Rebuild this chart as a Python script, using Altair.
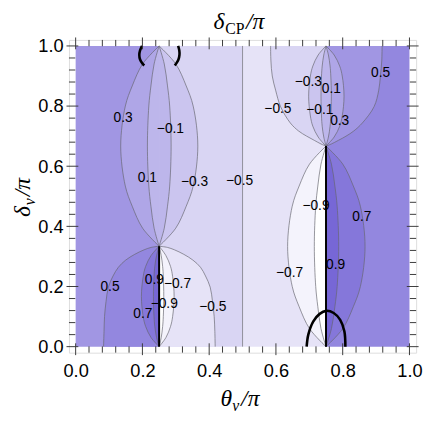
import altair as alt
import pandas as pd

# ---------------- values ----------------
TICKS_MAJOR = [0.0, 0.2, 0.4, 0.6, 0.8, 1.0]
TICKS_MINOR = [0.04, 0.08, 0.12, 0.16, 0.24, 0.28, 0.32, 0.36, 0.44, 0.48,
               0.52, 0.56, 0.64, 0.68, 0.72, 0.76, 0.84, 0.88, 0.92, 0.96]

# band colour, keyed by the lower contour level of the band
LEVEL_COLORS = {
    -1.0: "#ffffff", -0.9: "#f4f3fc", -0.7: "#e6e3f7", -0.5: "#d9d5f3",
    -0.3: "#cbc5ef", -0.1: "#bdb6eb", 0.1: "#afa6e7", 0.3: "#a196e3",
    0.5: "#9387df", 0.7: "#8577da", 0.9: "#7767d6",
}

# delta positions (delta/pi) of the points
D_BIG_LOW = [0.0, 0.060, 0.133, 0.200, 0.333, 0.467, 0.534, 0.607, 0.667]
D_BIG_UP = [0.334, 0.394, 0.467, 0.534, 0.667, 0.800, 0.867, 0.940, 1.0]
D_SMALL_LOW = [0.0, 0.030, 0.067, 0.100, 0.167, 0.233, 0.267, 0.303, 0.334]
D_SMALL_UP = [0.667, 0.697, 0.733, 0.767, 0.833, 0.900, 0.933, 0.970, 1.0]

# contour curves: name -> (theta/pi list, delta/pi list)
CURVES = {
    "ll_p05": ([0.0836, 0.085, 0.0865, 0.091, 0.098, 0.112, 0.128, 0.150, 0.177, 0.205, 0.226, 0.25],
               [0.0, 0.05, 0.10, 0.15, 0.198, 0.235, 0.264, 0.288, 0.307, 0.322, 0.330, 0.334]),
    "ll_m05": ([0.418, 0.417, 0.415, 0.410, 0.403, 0.389, 0.374, 0.351, 0.324, 0.296, 0.275, 0.25],
               [0.0, 0.05, 0.10, 0.15, 0.198, 0.235, 0.264, 0.288, 0.307, 0.322, 0.330, 0.334]),
    "ll_p07": ([0.25, 0.226, 0.2097, 0.2023, 0.197, 0.2023, 0.2097, 0.226, 0.25], D_SMALL_LOW),
    "ll_p09": ([0.25, 0.2424, 0.2371, 0.2347, 0.233, 0.2347, 0.2371, 0.2424, 0.25], D_SMALL_LOW),
    "ll_m09": ([0.25, 0.2563, 0.2606, 0.2626, 0.264, 0.2626, 0.2606, 0.2563, 0.25], D_SMALL_LOW),
    "ll_m07": ([0.25, 0.2703, 0.2842, 0.2905, 0.295, 0.2905, 0.2842, 0.2703, 0.25], D_SMALL_LOW),
    "ul_p03": ([0.25, 0.2006, 0.1695, 0.1488, 0.135, 0.1488, 0.1695, 0.2006, 0.25], D_BIG_UP),
    "ul_p01": ([0.25, 0.235, 0.2255, 0.2192, 0.215, 0.2192, 0.2255, 0.235, 0.25], D_BIG_UP),
    "ul_m01": ([0.25, 0.2655, 0.2752, 0.2817, 0.286, 0.2817, 0.2752, 0.2655, 0.25], D_BIG_UP),
    "ul_m03": ([0.25, 0.2999, 0.3312, 0.3521, 0.366, 0.3521, 0.3312, 0.2999, 0.25], D_BIG_UP),
    "ur_m05": ([0.584, 0.585, 0.589, 0.599, 0.614, 0.643, 0.668, 0.692, 0.715, 0.735, 0.75],
               [1.0, 0.95, 0.90, 0.853, 0.798, 0.744, 0.717, 0.700, 0.686, 0.674, 0.667]),
    "ur_p05": ([0.918, 0.917, 0.913, 0.908, 0.894, 0.859, 0.833, 0.810, 0.787, 0.766, 0.75],
               [1.0, 0.95, 0.90, 0.853, 0.798, 0.744, 0.717, 0.700, 0.686, 0.674, 0.667]),
    "ur_m03": ([0.75, 0.7266, 0.7105, 0.7032, 0.698, 0.7032, 0.7105, 0.7266, 0.75], D_SMALL_UP),
    "ur_m01": ([0.75, 0.7433, 0.7386, 0.7365, 0.735, 0.7365, 0.7386, 0.7433, 0.75], D_SMALL_UP),
    "ur_p01": ([0.75, 0.7572, 0.7622, 0.7644, 0.766, 0.7644, 0.7622, 0.7572, 0.75], D_SMALL_UP),
    "ur_p03": ([0.75, 0.7743, 0.791, 0.7986, 0.804, 0.7986, 0.791, 0.7743, 0.75], D_SMALL_UP),
    "lr_m07": ([0.75, 0.7006, 0.6695, 0.6488, 0.635, 0.6488, 0.6695, 0.7006, 0.75], D_BIG_LOW),
    "lr_m09": ([0.75, 0.735, 0.7255, 0.7192, 0.715, 0.7192, 0.7255, 0.735, 0.75], D_BIG_LOW),
    "lr_p09": ([0.75, 0.7663, 0.7766, 0.7834, 0.788, 0.7834, 0.7766, 0.7663, 0.75], D_BIG_LOW),
    "lr_p07": ([0.75, 0.8003, 0.8319, 0.853, 0.867, 0.853, 0.8319, 0.8003, 0.75], D_BIG_LOW),
    "mid": ([0.5, 0.5], [0.0, 1.0]),
}

# shaded regions, painted in this order: (curve, theta edge, band level)
REGIONS = [
    ("ll_p05", 0.25, 0.5), ("ll_p07", 0.25, 0.7), ("ll_p09", 0.25, 0.9),
    ("ll_m05", 0.25, -0.7), ("ll_m07", 0.25, -0.9), ("ll_m09", 0.25, -1.0),
    ("ul_p03", 0.25, 0.1), ("ul_p01", 0.25, -0.1),
    ("ul_m03", 0.25, -0.3), ("ul_m01", 0.25, -0.1),
    ("ur_m05", 0.75, -0.5), ("ur_p05", 0.75, 0.3),
    ("ur_m03", 0.75, -0.3), ("ur_m01", 0.75, -0.1),
    ("ur_p03", 0.75, 0.1), ("ur_p01", 0.75, -0.1),
    ("lr_m07", 0.75, -0.9), ("lr_m09", 0.75, -1.0),
    ("lr_p07", 0.75, 0.7), ("lr_p09", 0.75, 0.9),
]

STRIPS_FROM = [0.0, 0.25, 0.5, 0.75]
STRIPS_TO = [0.25, 0.5, 0.75, 1.0]
STRIPS_LEVEL = [0.3, -0.5, -0.7, 0.5]

BLACK = {
    "cut_l": ([0.25, 0.25], [0.0, 0.334]),
    "cut_r": ([0.75, 0.75], [0.0, 0.667]),
    "arc_tl": ([0.199, 0.193, 0.1907, 0.193, 0.199, 0.2055], [1.0, 0.985, 0.970, 0.955, 0.943, 0.935]),
    "arc_tr": ([0.307, 0.3105, 0.311, 0.308, 0.302, 0.297], [1.0, 0.985, 0.970, 0.955, 0.943, 0.935]),
    "arc_br": ([0.692, 0.697, 0.712, 0.731, 0.7505, 0.773, 0.7925, 0.805, 0.808],
               [0.0, 0.04, 0.084, 0.109, 0.119, 0.112, 0.089, 0.051, 0.0]),
}

LABEL_TEXT = ["0.3", "\u22120.1", "0.1", "\u22120.3", "\u22120.5", "\u22120.3", "0.1", "\u22120.5",
              "\u22120.1", "0.3", "0.5", "\u22120.9", "0.7", "0.9", "\u22120.7", "0.5", "0.9",
              "\u22120.7", "\u22120.9", "0.7", "\u22120.5"]
LABEL_X = [0.142, 0.284, 0.215, 0.356, 0.491, 0.697, 0.766, 0.606, 0.7316, 0.791, 0.9135,
           0.720, 0.8575, 0.779, 0.641, 0.103, 0.236, 0.305, 0.2655, 0.2015, 0.411]
LABEL_Y = [0.760, 0.722, 0.559, 0.546, 0.552, 0.880, 0.855, 0.791, 0.788, 0.749, 0.911,
           0.467, 0.430, 0.272, 0.244, 0.198, 0.222, 0.207, 0.1405, 0.108, 0.133]

# ---------------- chart ----------------
W, H = 353, 318
xs = alt.Scale(domain=[-0.02, 1.02], nice=False, zero=False)
ys = alt.Scale(domain=[-0.02, 1.02], nice=False, zero=False)
XAX = alt.Axis(values=TICKS_MAJOR, format=".1f", ticks=False, tickSize=0, domain=False, grid=False,
               labelFontSize=18.5, labelFont="Liberation Sans", labelColor="#000",
               labelPadding=9, labelOverlap=False, title=None)
YAX = alt.Axis(values=TICKS_MAJOR, format=".1f", ticks=False, tickSize=0, domain=False, grid=False,
               labelFontSize=18.5, labelFont="Liberation Sans", labelColor="#000",
               labelPadding=6, labelOverlap=False, title=None)


def X(f):
    return alt.X(f, type="quantitative", scale=xs, axis=XAX)


def Y(f):
    return alt.Y(f, type="quantitative", scale=ys, axis=YAX)


layers = []

bg = pd.DataFrame({"x": STRIPS_FROM, "x2": STRIPS_TO, "y": [0.0] * 4, "y2": [1.0] * 4,
                   "c": [LEVEL_COLORS[v] for v in STRIPS_LEVEL]})
layers.append(alt.Chart(bg).mark_rect(strokeWidth=0).encode(
    x=X("x"), x2="x2", y=Y("y"), y2="y2", color=alt.Color("c:N", scale=None)))

for name, edge, lev in REGIONS:
    th, de = CURVES[name]
    df = pd.DataFrame({"d": de, "x": th, "x2": [edge] * len(th)}).sort_values("d")
    layers.append(alt.Chart(df).mark_area(orient="horizontal", interpolate="catmull-rom",
                                          color=LEVEL_COLORS[lev], strokeWidth=0).encode(
        y=Y("d"), x=X("x"), x2="x2"))

rows = []
for name, (th, de) in CURVES.items():
    for i, (a, b) in enumerate(zip(th, de)):
        rows.append({"n": name, "i": i, "x": a, "d": b})
lines = pd.DataFrame(rows)
layers.append(alt.Chart(lines).mark_line(interpolate="catmull-rom", color="#66666f",
                                         strokeWidth=0.8, opacity=0.85).encode(
    x=X("x"), y=Y("d"), detail="n:N", order="i:Q"))

rows = []
for name, (th, de) in BLACK.items():
    for i, (a, b) in enumerate(zip(th, de)):
        rows.append({"n": name, "i": i, "x": a, "d": b,
                     "w": 2.0 if name.startswith("cut") else 2.6})
black = pd.DataFrame(rows)
layers.append(alt.Chart(black).mark_line(interpolate="catmull-rom", color="#000").encode(
    x=X("x"), y=Y("d"), detail="n:N", order="i:Q",
    strokeWidth=alt.StrokeWidth("w:Q", scale=None, legend=None)))

labels = pd.DataFrame({"t": LABEL_TEXT, "x": LABEL_X, "d": LABEL_Y})
layers.append(alt.Chart(labels).mark_text(font="Liberation Sans", fontSize=14, color="#000",
                                          align="center", baseline="middle").encode(
    x=X("x"), y=Y("d"), text="t:N"))

minor = pd.DataFrame({"v": TICKS_MINOR})
major = pd.DataFrame({"v": TICKS_MAJOR})
TC = "#3a3a3a"
for df, a, b in ((minor, 0, 6.4), (major, -2.5, 9.5)):
    layers.append(alt.Chart(df).mark_rule(color=TC, strokeWidth=1).encode(
        x=X("v"), y=alt.value(H - a), y2=alt.value(H - b)))
    layers.append(alt.Chart(df).mark_rule(color=TC, strokeWidth=1).encode(
        x=X("v"), y=alt.value(a), y2=alt.value(b)))
    layers.append(alt.Chart(df).mark_rule(color=TC, strokeWidth=1).encode(
        y=Y("v"), x=alt.value(a), x2=alt.value(b)))
    layers.append(alt.Chart(df).mark_rule(color=TC, strokeWidth=1).encode(
        y=Y("v"), x=alt.value(W - a), x2=alt.value(W - b)))

SERIF = "Liberation Serif"


def piece(txt, x, y, size, italic=True, angle=0):
    return alt.Chart(pd.DataFrame({"t": [txt]})).mark_text(
        font=SERIF, fontSize=size, fontStyle="italic" if italic else "normal",
        align="left", baseline="alphabetic", angle=angle, color="#000").encode(
        text="t:N", x=alt.value(x), y=alt.value(y))


# top title: delta_CP / pi
tx, ty = 147, -11
layers += [piece("\u03b4", tx, ty, 24), piece("CP", tx + 12, ty + 5, 16, italic=False),
           piece("/\u03c0", tx + 33, ty, 24)]
# x title: theta_nu / pi
bx, by = 154, 372
layers += [piece("\u03b8", bx, by, 24), piece("\u03bd", bx + 12, by + 5, 16),
           piece("/\u03c0", bx + 21, by, 24)]
# y title: delta_nu / pi, rotated
lx, ly = -40, 180
layers += [piece("\u03b4", lx, ly, 24, angle=270), piece("\u03bd", lx + 5, ly - 12, 16, angle=270),
           piece("/\u03c0", lx, ly - 21, 24, angle=270)]

chart = alt.layer(*layers).properties(
    width=W, height=H,
    autosize=alt.AutoSizeParams(type="none"),
    padding={"left": 62, "top": 29, "right": 8, "bottom": 65},
).configure_view(stroke="#8c8c8c", strokeWidth=1).configure(background="white")

chart.save("out.html", embed_options={"renderer": "svg", "actions": False})
